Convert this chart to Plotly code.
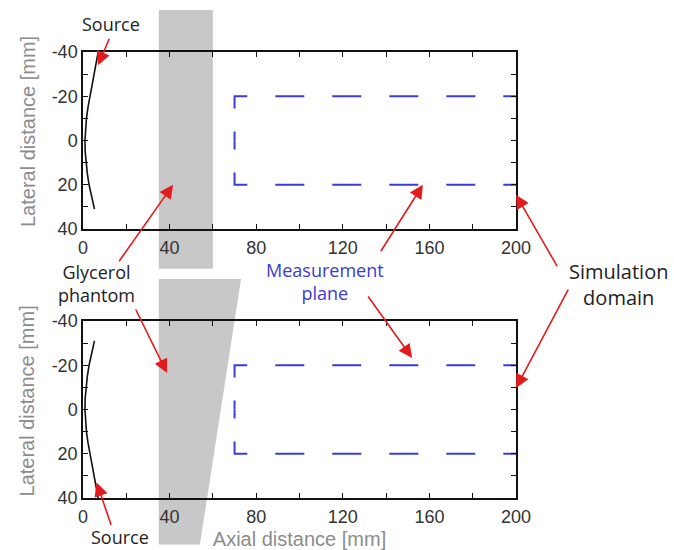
import plotly.graph_objects as go

# ---- tick layout ----
x_tick_vals = [0, 20, 40, 60, 80, 100, 120, 140, 160, 180, 200]
x_tick_text = ["0", "", "40", "", "80", "", "120", "", "160", "", "200"]
y_tick_vals = [-40, -30, -20, -10, 0, 10, 20, 30, 40]
y_tick_text = ["-40", "", "-20", "", "0", "", "20", "", "40"]

# ---- curved source aperture (upper panel, mm); lower panel is mirrored ----
source_lat = [-40, -35, -30, -25, -20, -15, -10, -5, 0, 5, 10, 15, 20, 25, 31]
source_axial = [7.0, 6.0, 5.0, 4.0, 3.1, 2.3, 1.6, 1.1, 0.9, 1.0, 1.4, 2.0, 2.8, 3.8, 5.3]

# ---- measurement plane outline (mm) ----
plane_axial = [70, 200]
plane_lat = [-20, 20]

# ---- glycerol phantom (mm): straight slab above, tapered wedge below ----
slab_axial = [35, 60]
slab_lat = [-59, 58]
wedge_axial = [35, 73, 54, 35]
wedge_lat = [-59, -59, 61, 61]

# ---- panel geometry ----
TOP_DOMAIN = [0.6031, 1.0]
BOT_DOMAIN = [0.0, 0.3969]
Y_RANGE = [40, -40]

AXIS_COLOR = "#111111"
TICK_FONT = dict(family="Liberation Sans, Arial", size=18, color="#333333")
TITLE_FONT = dict(family="Liberation Sans, Arial", size=20, color="#8c8c8c")
NOTE_FONT = dict(family="Open Sans", size=18, color="#222222")
PLANE_BLUE = "#3b3bd6"
ARROW_RED = "#e31b1f"
PHANTOM_GRAY = "#c8c8c8"
PLANE_DASH = "9px,23px,25px,28px,29px,28px,29px,28px,29px,28px,29px,28px,29px,28px"


def lat_to_paper(lat, domain):
    """Map a lateral position (mm) to paper y for a reversed [40, -40] axis."""
    d0, d1 = domain
    return d0 + (Y_RANGE[0] - lat) / (Y_RANGE[0] - Y_RANGE[1]) * (d1 - d0)


fig = go.Figure()

panels = [("x", "y", 1), ("x2", "y2", -1)]
for xa, ya, flip in panels:
    # source arc
    fig.add_trace(go.Scatter(
        x=source_axial, y=[flip * v for v in source_lat],
        mode="lines", line=dict(color="#111111", width=1.6),
        xaxis=xa, yaxis=ya, showlegend=False, hoverinfo="skip"))
    # measurement plane: two halves drawn outward from the middle of the near edge
    mid = (plane_lat[0] + plane_lat[1]) / 2
    for edge in plane_lat:
        fig.add_trace(go.Scatter(
            x=[plane_axial[0], plane_axial[0], plane_axial[1]],
            y=[mid, edge, edge],
            mode="lines", line=dict(color=PLANE_BLUE, width=2, dash=PLANE_DASH),
            xaxis=xa, yaxis=ya, showlegend=False, hoverinfo="skip",
            cliponaxis=False))

# glycerol phantom shapes (extend past the panel frames)
shapes = [dict(
    type="rect", xref="x", yref="paper", layer="below",
    x0=slab_axial[0], x1=slab_axial[1],
    y0=lat_to_paper(slab_lat[1], TOP_DOMAIN), y1=lat_to_paper(slab_lat[0], TOP_DOMAIN),
    fillcolor=PHANTOM_GRAY, line=dict(width=0))]
wedge_path = "M" + " L".join(
    f"{a},{lat_to_paper(l, BOT_DOMAIN):.4f}" for a, l in zip(wedge_axial, wedge_lat)) + " Z"
shapes.append(dict(type="path", xref="x2", yref="paper", layer="below",
                   path=wedge_path, fillcolor=PHANTOM_GRAY, line=dict(width=0)))

# arrows: (x ref, y ref, tip axial, tip lateral, tail offset px)
arrows = [
    ("x", "y", 6.9, -34, 12, -28),
    ("x", "y", 41.6, 20, -55, 78),
    ("x", "y", 157, 20, -43, 68),
    ("x", "y", 200, 24.5, 42, 73),
    ("x2", "y2", 38.8, -16.5, -32, -65),
    ("x2", "y2", 152, -23.3, -45, -63),
    ("x2", "y2", 200, -9.7, 53, -100),
    ("x2", "y2", 6.3, 33, 15, 44),
]
annotations = []
for xr, yr, tx, ty, dx, dy in arrows:
    annotations.append(dict(
        xref=xr, yref=yr, x=tx, y=ty, ax=dx, ay=dy, text="",
        showarrow=True, arrowhead=2, arrowsize=1.7, arrowwidth=1.6,
        arrowcolor=ARROW_RED, standoff=0))

labels = [
    ("Source", 0.0647, 1.0628, NOTE_FONT, 0),
    ("Source", 0.0855, -0.0874, NOTE_FONT, 0),
    ("Glycerol<br>phantom", 0.0323, 0.482, NOTE_FONT, 0),
    ("Measurement<br>plane", 0.559, 0.4845, dict(NOTE_FONT, color=PLANE_BLUE), 0),
    ("Simulation<br>domain", 1.2356, 0.4798, dict(NOTE_FONT, size=20), 0),
    ("Lateral distance [mm]", -0.1282, 0.8217, TITLE_FONT, -90),
    ("Lateral distance [mm]", -0.1282, 0.2175, TITLE_FONT, -90),
]
for text, px, py, font, angle in labels:
    annotations.append(dict(xref="paper", yref="paper", x=px, y=py, text=text,
                            showarrow=False, font=font, xanchor="center",
                            yanchor="middle", textangle=angle))

axis_common = dict(
    showline=True, linecolor=AXIS_COLOR, linewidth=1.5, mirror="ticks",
    ticks="inside", ticklen=5, tickwidth=1, tickcolor=AXIS_COLOR,
    showgrid=False, zeroline=False, tickfont=TICK_FONT, automargin=False)

xaxis_common = dict(axis_common, range=[0, 200], tickmode="array",
                    tickvals=x_tick_vals, ticktext=x_tick_text, domain=[0, 1],
                    ticklabelstandoff=2)
yaxis_common = dict(axis_common, range=Y_RANGE, tickmode="array",
                    tickvals=y_tick_vals, ticktext=y_tick_text)

fig.update_layout(
    width=674, height=550,
    margin=dict(l=83, r=158, t=52, b=52),
    paper_bgcolor="white", plot_bgcolor="rgba(0,0,0,0)",
    xaxis=dict(xaxis_common, anchor="y"),
    yaxis=dict(yaxis_common, anchor="x", domain=TOP_DOMAIN),
    xaxis2=dict(xaxis_common, anchor="y2",
                title=dict(text="Axial distance [mm]", font=TITLE_FONT, standoff=9)),
    yaxis2=dict(yaxis_common, anchor="x2", domain=BOT_DOMAIN),
    shapes=shapes, annotations=annotations,
)

fig.write_html("out.html")
